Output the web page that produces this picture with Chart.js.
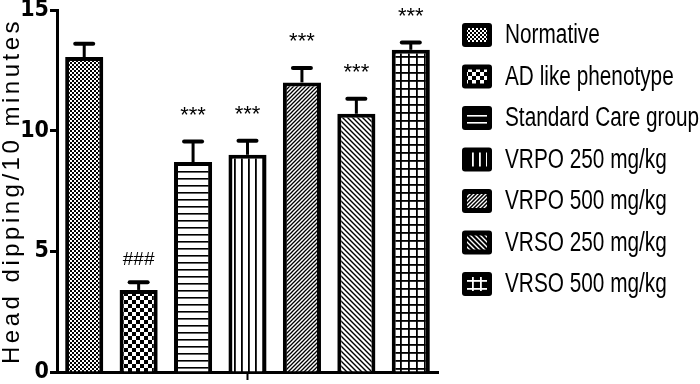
<!DOCTYPE html>
<html>
<head>
<meta charset="utf-8">
<script src="https://cdn.jsdelivr.net/npm/chart.js@4.4.1/dist/chart.umd.min.js"></script>
<style>
html,body{margin:0;padding:0;background:#fff;}
#wrap{width:700px;height:384px;position:relative;}
</style>
</head>
<body>
<div id="wrap"><canvas id="c" width="700" height="384"></canvas></div>
<script>
// ---- data ----
const categories = [''];
const groups = ['Normative', 'AD like phenotype', 'Standard Care group', 'VRPO 250 mg/kg', 'VRPO 500 mg/kg', 'VRSO 250 mg/kg', 'VRSO 500 mg/kg'];
const means = [13.05, 3.4, 8.7, 9.0, 12.0, 10.7, 13.35];
const sem = [0.55, 0.32, 0.85, 0.58, 0.6, 0.62, 0.3];
const marks = ['', '###', '***', '***', '***', '***', '***'];
const yTicks = [0, 5, 10, 15];
const yTitle = 'Head dipping/10 minutes';
const patternTypes = ['finecheck', 'check', 'hline', 'vline', 'diag', 'diag2', 'grid'];

// ---- patterns ----
function makePattern(type, fg, bg) {
  const sizes = {finecheck: 4, check: 8, hline: 7, vline: 7, diag: 4, diag2: 5, grid: 8};
  const s = sizes[type];
  const c = document.createElement('canvas');
  c.width = s; c.height = s;
  const g = c.getContext('2d');
  g.fillStyle = bg; g.fillRect(0, 0, s, s);
  g.fillStyle = fg; g.strokeStyle = fg;
  if (type === 'finecheck') { g.fillRect(0, 0, 2, 2); g.fillRect(2, 2, 2, 2); }
  else if (type === 'check') { g.fillRect(0, 0, 4, 4); g.fillRect(4, 4, 4, 4); }
  else if (type === 'hline') { g.fillRect(0, 3, s, 1.6); }
  else if (type === 'vline') { g.fillRect(3, 0, 1.8, s); }
  else if (type === 'grid') { g.fillRect(0, 0, s, 1.8); g.fillRect(0, 0, 1.8, s); }
  else if (type === 'diag') {
    g.lineWidth = 1.3;
    g.beginPath(); g.moveTo(-1, s + 1); g.lineTo(s + 1, -1);
    g.moveTo(-1, 1); g.lineTo(1, -1);
    g.moveTo(s - 1, s + 1); g.lineTo(s + 1, s - 1); g.stroke();
  } else if (type === 'diag2') {
    g.lineWidth = 1.4;
    g.beginPath(); g.moveTo(-1, -1); g.lineTo(s + 1, s + 1);
    g.moveTo(s - 1, -1); g.lineTo(s + 1, 1);
    g.moveTo(-1, s - 1); g.lineTo(1, s + 1); g.stroke();
  }
  return g.createPattern(c, 'repeat');
}
const barPatterns = patternTypes.map(t => makePattern(t, '#000', '#fff'));
const legendPatterns = patternTypes.map(t => makePattern(t, '#fff', '#000'));

// ---- plugins ----
const errorBars = {
  id: 'errorBars',
  afterDatasetsDraw(chart) {
    const ctx = chart.ctx, y = chart.scales.y;
    ctx.save();
    chart.data.datasets.forEach((ds, i) => {
      const bar = chart.getDatasetMeta(i).data[0];
      const top = y.getPixelForValue(means[i] + sem[i]);
      ctx.strokeStyle = '#000';
      ctx.lineWidth = 3;
      ctx.beginPath(); ctx.moveTo(bar.x, bar.y); ctx.lineTo(bar.x, top); ctx.stroke();
      ctx.lineWidth = 4; ctx.lineCap = 'round';
      ctx.beginPath(); ctx.moveTo(bar.x - 9, top); ctx.lineTo(bar.x + 9, top); ctx.stroke();
      ctx.lineCap = 'butt';
      if (marks[i]) {
        ctx.fillStyle = '#000';
        ctx.textAlign = 'center';
        ctx.textBaseline = 'middle';
        if (marks[i][0] === '*') {
          ctx.font = '22px "Liberation Sans", Arial, sans-serif';
          ctx.fillText(marks[i], bar.x, top - 26);
        } else {
          ctx.font = '19px "Liberation Sans", Arial, sans-serif';
          ctx.fillText(marks[i], bar.x, top - 22);
        }
      }
    });
    ctx.restore();
  }
};

const customLegend = {
  id: 'customLegend',
  afterDraw(chart) {
    const ctx = chart.ctx;
    ctx.save();
    chart.data.datasets.forEach((ds, i) => {
      const cy = 35 + i * 41.5;
      ctx.fillStyle = '#000';
      ctx.beginPath();
      ctx.roundRect(462, cy - 12, 30, 24, 3);
      ctx.fill();
      ctx.fillStyle = legendPatterns[i];
      ctx.fillRect(467, cy - 7, 20, 14);
      ctx.save();
      ctx.translate(505, cy);
      ctx.scale(0.77, 1);
      ctx.fillStyle = '#000';
      ctx.font = '27px "Liberation Sans", Arial, sans-serif';
      ctx.textAlign = 'left';
      ctx.textBaseline = 'middle';
      ctx.fillText(ds.label, 0, 1);
      ctx.restore();
    });
    ctx.restore();
  }
};

const yTitlePlugin = {
  id: 'yTitlePlugin',
  afterDraw(chart) {
    const ctx = chart.ctx;
    ctx.save();
    ctx.translate(12, 191);
    ctx.rotate(-Math.PI / 2);
    ctx.font = '24px "Liberation Sans", Arial, sans-serif';
    ctx.letterSpacing = '3.5px';
    ctx.fillStyle = '#000';
    ctx.textAlign = 'center';
    ctx.textBaseline = 'middle';
    ctx.fillText(yTitle, 0, 0);
    ctx.restore();
  }
};

// ---- chart ----
new Chart(document.getElementById('c'), {
  type: 'bar',
  data: {
    labels: categories,
    datasets: groups.map((g, i) => ({
      label: g,
      data: [means[i]],
      backgroundColor: barPatterns[i],
      borderColor: '#000',
      borderWidth: 4,
      borderSkipped: 'start'
    }))
  },
  options: {
    responsive: false,
    animation: false,
    devicePixelRatio: 1,
    layout: {padding: {left: 0, right: 262, top: 10, bottom: 0}},
    categoryPercentage: 1,
    barPercentage: 0.7,
    plugins: {legend: {display: false}, tooltip: {enabled: false}},
    scales: {
      x: {
        grid: {display: true, drawOnChartArea: false, offset: false, tickLength: 8, tickWidth: 2, color: '#000'},
        border: {display: true, color: '#000', width: 3},
        ticks: {display: true, padding: 0, font: {size: 1}},
        afterFit(s) { s.height = 12; s.paddingLeft = 0; s.paddingRight = 0; }
      },
      y: {
        min: 0, max: 15,
        afterBuildTicks(s) { s.ticks = yTicks.map(v => ({value: v})); },
        grid: {display: true, drawOnChartArea: false, tickLength: 7, tickWidth: 3, color: '#000'},
        border: {display: true, color: '#000', width: 3},
        ticks: {
          color: '#000', padding: 1,
          font: {family: '"Liberation Sans Narrow", "DejaVu Sans Condensed", sans-serif', size: 23, weight: 'bold'}
        },
        afterFit(s) { s.width = 57; s.paddingTop = 0; s.paddingBottom = 0; }
      }
    }
  },
  plugins: [errorBars, customLegend, yTitlePlugin]
});
</script>
</body>
</html>
